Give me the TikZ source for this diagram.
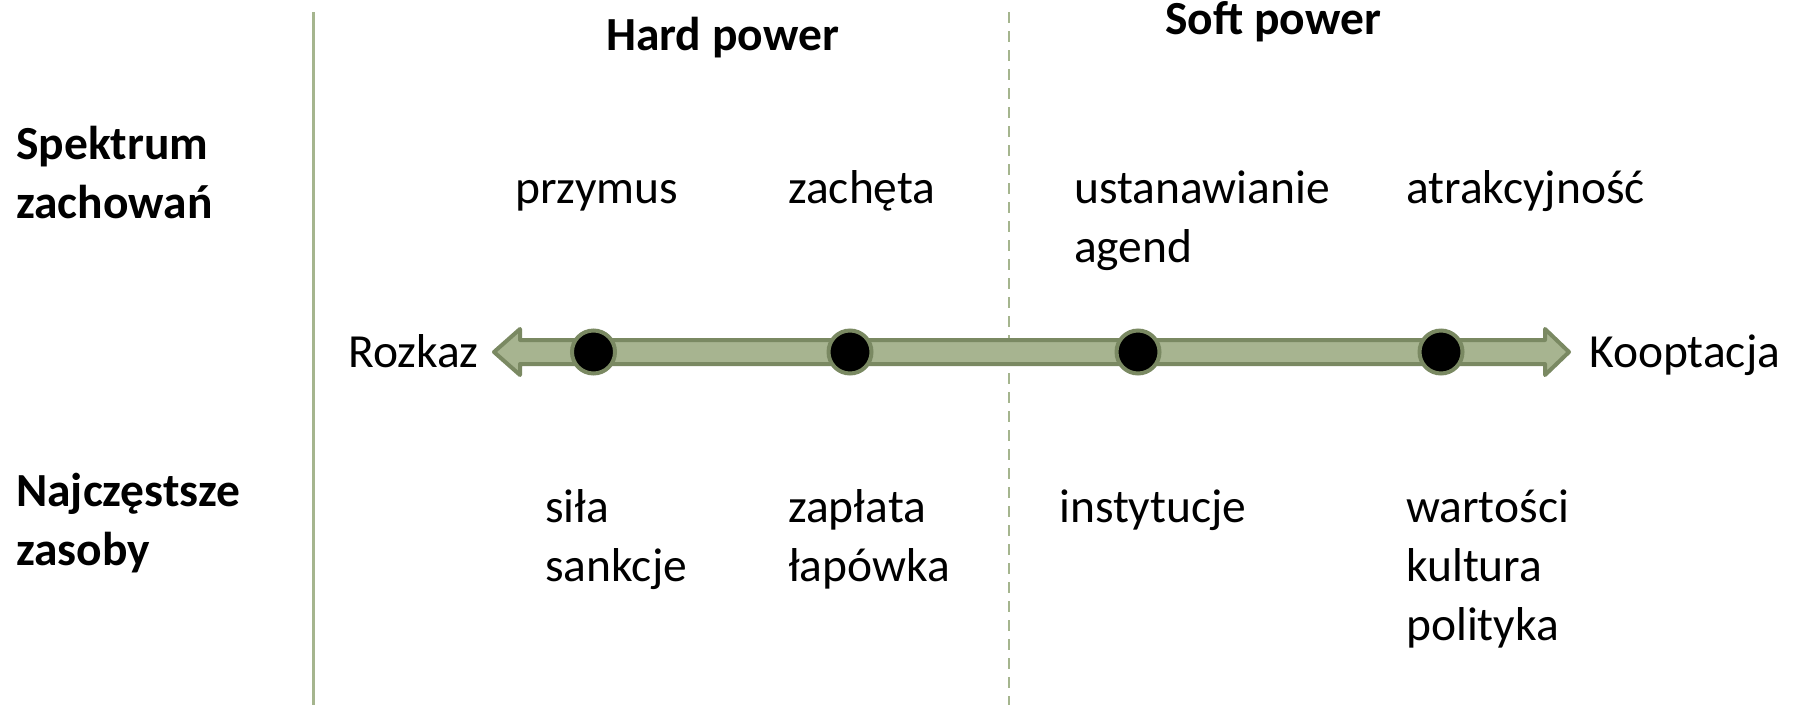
\documentclass[tikz,border=0pt]{standalone}
\usepackage{fontspec}
\setmainfont{Carlito}
\usetikzlibrary{calc}
\definecolor{linegreen}{RGB}{165,181,142}
\definecolor{arrowfill}{RGB}{167,180,144}
\definecolor{arrowedge}{RGB}{122,137,98}
\tikzset{
  lbl/.style={font=\fontsize{47.5}{59}\selectfont, inner sep=0pt, anchor=base west, text=black},
  hdr/.style={lbl, font=\fontsize{47.5}{59}\selectfont\bfseries},
  vline/.style={draw=linegreen, line width=3pt},
  dline/.style={draw=linegreen, line width=2.7pt, dash pattern=on 11pt off 8pt},
  bigarrow/.style={fill=arrowfill, draw=arrowedge, line width=4pt, line join=round},
  dot/.style={circle, fill=black, draw=arrowedge, line width=4pt, minimum size=43pt, inner sep=0pt}
}
\newcommand{\rows}[1]{\begin{tabular}[t]{@{}l@{}}#1\end{tabular}}
\begin{document}
\begin{tikzpicture}[x=1pt,y=-1pt]
\useasboundingbox (0,0) rectangle (1796,705);
% separators
\coordinate (s1) at (313,12);
\coordinate (s2) at (313,705);
\coordinate (d1) at (1009,12);
\coordinate (d2) at (1009,705);
\draw[vline] (s1) -- (s2);
\draw[dline] (d1) -- (d2);
% headers
\node[hdr] (hard) at (606,50) {Hard power};
\node[hdr] (soft) at (1165,34) {Soft power};
\node[hdr] (spek) at (16,159) {\rows{Spektrum\\zachowań}};
\node[hdr] (najc) at (16,506) {\rows{Najczęstsze\\zasoby}};
% behaviour row
\node[lbl] (przymus) at (515,203) {przymus};
\node[lbl] (zacheta) at (788,203) {zachęta};
\node[lbl] (ustan) at (1074,203) {\rows{ustanawianie\\agend}};
\node[lbl] (atrak) at (1406,203) {atrakcyjność};
% arrow
\coordinate (L) at (494,352);
\coordinate (R) at (1569,352);
\path[bigarrow] (L) -- ++(26,-23) -- ++(0,11) -- ($(R)+(-24,-12)$) -- ++(0,-11) -- (R)
  -- ++(-24,23) -- ++(0,-11) -- ($(L)+(26,12)$) -- ++(0,11) -- cycle;
\node[dot] (p1) at (593.5,352) {};
\node[dot] (p2) at (850,352) {};
\node[dot] (p3) at (1138,352) {};
\node[dot] (p4) at (1441,352) {};
\node[lbl] (rozkaz) at (348,367) {Rozkaz};
\node[lbl] (koopt) at (1589,367) {Kooptacja};
% resources row
\node[lbl] (sila) at (545,522) {\rows{siła\\sankcje}};
\node[lbl] (zaplata) at (788,522) {\rows{zapłata\\łapówka}};
\node[lbl] (inst) at (1059,522) {instytucje};
\node[lbl] (wart) at (1406,522) {\rows{wartości\\kultura\\polityka}};
\end{tikzpicture}
\end{document}
